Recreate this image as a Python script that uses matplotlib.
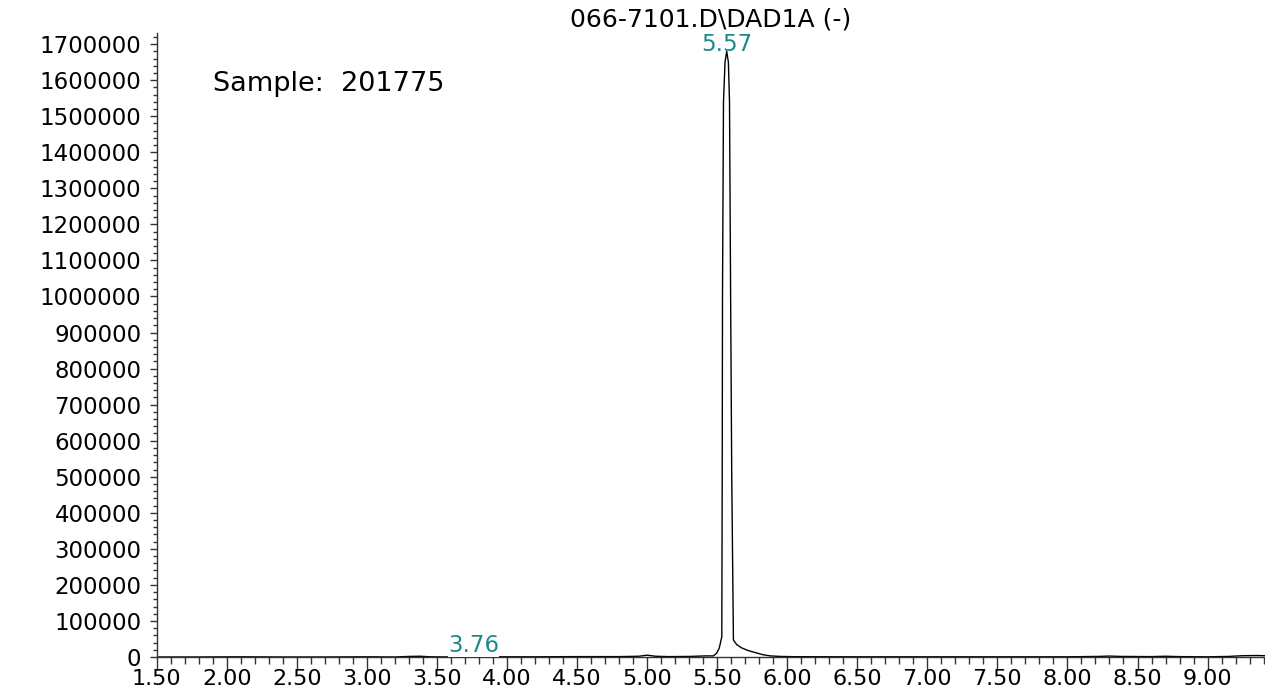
import matplotlib.pyplot as plt
import numpy as np
from matplotlib.ticker import MultipleLocator, FormatStrFormatter

# retention time (min) and detector signal
time_min = [1.50, 1.80, 2.10, 2.40, 2.70, 3.00, 3.20, 3.30, 3.38, 3.45, 3.60,
            3.76, 3.90, 4.20, 4.50, 4.80, 4.94, 5.00, 5.06, 5.15, 5.30, 5.38,
            5.42, 5.45, 5.473, 5.497, 5.515, 5.533, 5.536, 5.538, 5.545, 5.556,
            5.568, 5.580, 5.588, 5.596, 5.604, 5.616, 5.640, 5.676, 5.720,
            5.783, 5.830, 5.878, 5.95, 6.05, 6.50, 7.00, 7.50, 8.00, 8.22, 8.30,
            8.38, 8.60, 8.70, 8.80, 9.00, 9.15, 9.25, 9.35, 9.41]
signal = [0, 0, 500, 0, 0, 500, 0, 1500, 2000, 500, 0,
          0, 500, 500, 1000, 1000, 2000, 5000, 2000, 1000, 1500, 2500,
          3000, 3000, 3000, 11000, 25000, 56000, 500000, 1000000, 1540000, 1650000,
          1680000, 1650000, 1540000, 1000000, 500000, 47000, 34000, 25000, 18000,
          11000, 6000, 3000, 1500, 800, 500, 500, 500, 500, 1500, 2500,
          1500, 1000, 2000, 1000, 500, 1500, 3500, 4000, 3500]

peak_times = [5.57, 3.76]
peak_heights = [1680000, 0]
peak_labels = ["5.57", "3.76"]

title = "066-7101.D\\DAD1A (-)"
sample = "Sample:  201775"
teal = "#1b8a8a"

plt.rcParams['font.family'] = ['DejaVu Sans']

fig = plt.figure(figsize=(12.65, 6.87), dpi=100)
ax = fig.add_axes([0.1239, 0.0437, 0.8761, 0.9083])

ax.plot(time_min, signal, color='black', lw=1.0)

ax.set_xlim(1.5, 9.41)
ax.set_ylim(0, 1731000)

ax.spines['top'].set_visible(False)
ax.spines['right'].set_visible(False)
for s in ['left', 'bottom']:
    ax.spines[s].set_color('#333333')
    ax.spines[s].set_linewidth(1.0)

ax.xaxis.set_major_locator(MultipleLocator(0.5))
ax.xaxis.set_minor_locator(MultipleLocator(0.1))
ax.xaxis.set_major_formatter(FormatStrFormatter('%.2f'))
ax.yaxis.set_major_locator(MultipleLocator(100000))
ax.yaxis.set_minor_locator(MultipleLocator(20000))
ax.yaxis.set_major_formatter(FormatStrFormatter('%d'))

ax.tick_params(axis='x', which='major', direction='out', length=9, width=1,
               color='#333333', labelsize=16, pad=0)
ax.tick_params(axis='x', which='minor', direction='out', length=5, width=1,
               color='#333333')
ax.tick_params(axis='y', which='major', direction='out', length=5, width=1,
               color='#333333', labelsize=16.5, pad=6)
ax.tick_params(axis='y', which='minor', direction='out', length=3, width=1,
               color='#333333')

ax.set_title(title, fontsize=18, y=1.0, pad=5)

ax.text(1.90, 1589000, sample, fontsize=19.5, ha='left', va='center')

# main peak label sits right on the apex
ax.text(peak_times[0], peak_heights[0], peak_labels[0], color=teal, fontsize=16.5,
        ha='center', va='baseline', zorder=5, clip_on=False)
# small peak label masks the baseline under it
ax.text(peak_times[1], peak_heights[1], peak_labels[1], color=teal, fontsize=16.5,
        ha='center', va='bottom', zorder=5, clip_on=False,
        bbox=dict(facecolor='white', edgecolor='none', pad=0))

fig.savefig('out.png', dpi=100)
